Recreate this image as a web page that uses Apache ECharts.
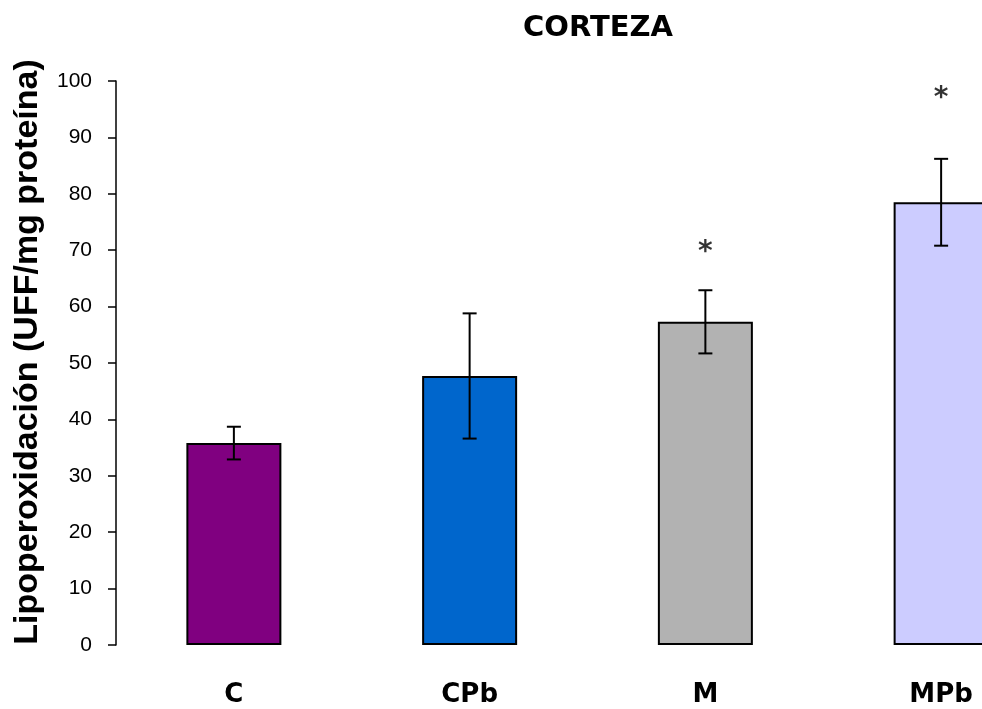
<!DOCTYPE html>
<html>
<head>
<meta charset="utf-8">
<script src="https://cdn.jsdelivr.net/npm/echarts@6/dist/echarts.min.js"></script>
<style>
html,body{margin:0;padding:0;background:#fff;overflow:hidden;width:982px;height:709px;}
#chart{width:1059px;height:709px;}
</style>
</head>
<body>
<div id="chart"></div>
<script>
var categories = ['C', 'CPb', 'M', 'MPb'];
var means = [35.8, 47.7, 57.3, 78.5];
var errors = [2.9, 11.1, 5.6, 7.7];
var barColors = ['#800080', '#0066CC', '#B2B2B2', '#CCCCFF'];
var sigMarks = [null, null, 69.5, 96.8];
var yTicks = [0, 10, 20, 30, 40, 50, 60, 70, 80, 90, 100];

var chart = echarts.init(document.getElementById('chart'), null, {renderer: 'canvas'});

var barData = means.map(function (v, i) {
  return {value: v, itemStyle: {color: barColors[i]}};
});
var errData = means.map(function (v, i) { return [i, v - errors[i], v + errors[i]]; });
var sigData = [];
sigMarks.forEach(function (v, i) { if (v !== null) sigData.push([i, v]); });

var option = {
  animation: false,
  backgroundColor: '#ffffff',
  title: {
    text: 'CORTEZA',
    left: 518, top: 9,
    textStyle: {fontFamily: 'DejaVu Sans', fontWeight: 'bold', fontSize: 29, color: '#000'}
  },
  grid: {left: 116, top: 81, right: 0, bottom: 64, containLabel: false},
  xAxis: {
    type: 'category',
    data: categories,
    axisLine: {show: false},
    axisTick: {show: false},
    axisLabel: {
      margin: 37,
      fontFamily: 'DejaVu Sans', fontWeight: 'bold', fontSize: 26, color: '#000'
    }
  },
  yAxis: {
    type: 'value',
    min: yTicks[0], max: yTicks[yTicks.length - 1], interval: 10,
    name: 'Lipoperoxidación (UFF/mg proteína)',
    nameLocation: 'middle',
    nameGap: 71,
    nameTextStyle: {fontFamily: 'Liberation Sans', fontWeight: 'bold', fontSize: 34, color: '#000', padding: [0, 0, 0, 22]},
    axisLine: {show: true, lineStyle: {color: '#000', width: 1.5}},
    axisTick: {show: true, inside: false, length: 8, lineStyle: {color: '#000', width: 1.5}},
    axisLabel: {margin: 24, fontFamily: 'Liberation Sans', fontSize: 21, color: '#000'},
    splitLine: {show: false}
  },
  series: [
    {
      type: 'bar',
      data: barData,
      barWidth: 95,
      itemStyle: {borderColor: '#000', borderWidth: 2},
      z: 2
    },
    {
      type: 'custom',
      data: errData,
      z: 5,
      renderItem: function (params, api) {
        var x = api.value(0);
        var lo = api.coord([x, api.value(1)]);
        var hi = api.coord([x, api.value(2)]);
        var hw = 7;
        var st = {stroke: '#000', lineWidth: 2};
        return {
          type: 'group',
          children: [
            {type: 'line', shape: {x1: lo[0], y1: lo[1], x2: hi[0], y2: hi[1]}, style: st},
            {type: 'line', shape: {x1: lo[0] - hw, y1: lo[1], x2: lo[0] + hw, y2: lo[1]}, style: st},
            {type: 'line', shape: {x1: hi[0] - hw, y1: hi[1], x2: hi[0] + hw, y2: hi[1]}, style: st}
          ]
        };
      }
    },
    {
      type: 'scatter',
      data: sigData,
      symbolSize: 0,
      z: 6,
      label: {
        show: true,
        position: 'inside',
        formatter: '*',
        fontFamily: 'DejaVu Sans',
        fontWeight: 'bold',
        fontSize: 28,
        color: '#000'
      }
    }
  ]
};
chart.setOption(option);
</script>
</body>
</html>
